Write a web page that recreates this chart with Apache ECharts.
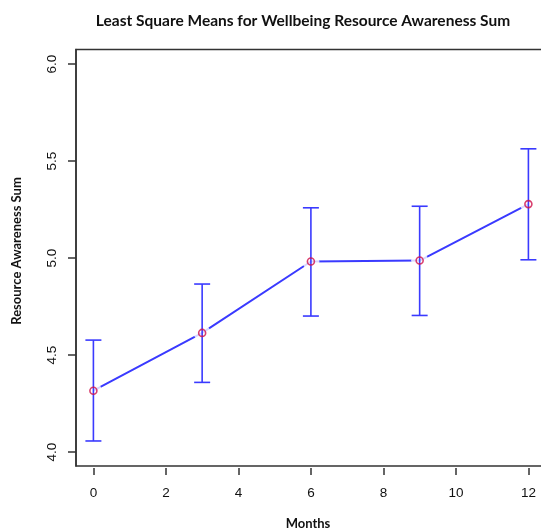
<!DOCTYPE html>
<html><head><meta charset="utf-8">
<script src="https://cdn.jsdelivr.net/npm/echarts@6/dist/echarts.min.js"></script>
<style>html,body{margin:0;padding:0;background:#fff;overflow:hidden}#c{width:552px;height:528px}</style>
</head><body><div id="c"></div>
<script>
const months = [0, 3, 6, 9, 12];
const means = [4.316, 4.614, 4.982, 4.987, 5.278];
const lower = [4.057, 4.359, 4.701, 4.704, 4.991];
const upper = [4.577, 4.866, 5.259, 5.267, 5.563];
const xTicks = [0, 2, 4, 6, 8, 10, 12];
const yTicks = [4.0, 4.5, 5.0, 5.5, 6.0];

const chart = echarts.init(document.getElementById('c'));
const pts = months.map((m, i) => [m, means[i]]);
const bars = months.map((m, i) => [m, lower[i], upper[i]]);

chart.setOption({
  animation: false,
  backgroundColor: '#fff',
  graphic: [
    {type: 'text', x: 303, y: 21, style: {text: 'Least Square Means for Wellbeing Resource Awareness Sum', font: 'bold 15.5px Lato', fill: '#111', textAlign: 'center', textVerticalAlign: 'middle'}},
    {type: 'text', x: 17, y: 251, rotation: Math.PI / 2, style: {text: 'Resource Awareness Sum', font: 'bold 13px Lato', fill: '#111', textAlign: 'center', textVerticalAlign: 'middle'}},
    {type: 'text', x: 308, y: 524, style: {text: 'Months', font: 'bold 13px Lato', fill: '#111', textAlign: 'center', textVerticalAlign: 'middle'}}
  ],
  grid: {left: 76, top: 49.5, bottom: 62, right: 6.2, show: true, borderColor: '#333', borderWidth: 1.5, backgroundColor: '#fff'},
  xAxis: {
    type: 'value', min: -0.48, max: 12.48, offset: 2,
    axisLine: {show: false, onZero: false},
    splitLine: {show: false},
    axisTick: {show: true, length: 7, customValues: xTicks, lineStyle: {color: '#333', width: 1.5}},
    axisLabel: {customValues: xTicks, margin: 18, color: '#111', fontFamily: 'Liberation Sans', fontSize: 13.5, formatter: v => String(v)}
  },
  yAxis: {
    type: 'value', min: 3.928, max: 6.075, position: 'left',
    axisLine: {show: true, onZero: false, lineStyle: {color: '#333', width: 1.5}},
    splitLine: {show: false},
    axisTick: {show: true, inside: false, length: 8, customValues: yTicks, lineStyle: {color: '#333', width: 1.5}},
    axisLabel: {customValues: yTicks, rotate: 90, margin: 24, color: '#111', fontFamily: 'Liberation Sans', fontSize: 13.5, formatter: v => v.toFixed(1), verticalAlign: 'middle', align: 'center'}
  },
  series: [
    {type: 'line', data: pts, symbol: 'none', z: 2, lineStyle: {color: '#3a3aff', width: 2}},
    {type: 'scatter', data: pts, symbol: 'circle', symbolSize: 17, z: 3, itemStyle: {color: '#fff'}},
    {type: 'custom', data: bars, z: 4,
      renderItem: function (params, api) {
        const x = api.value(0);
        const lo = api.coord([x, api.value(1)]);
        const hi = api.coord([x, api.value(2)]);
        const hw = 8;
        const st = {stroke: '#3a3aff', lineWidth: 1.6, fill: null};
        return {type: 'group', children: [
          {type: 'line', shape: {x1: lo[0], y1: lo[1], x2: hi[0], y2: hi[1]}, style: st},
          {type: 'line', shape: {x1: lo[0] - hw, y1: lo[1], x2: lo[0] + hw, y2: lo[1]}, style: st},
          {type: 'line', shape: {x1: hi[0] - hw, y1: hi[1], x2: hi[0] + hw, y2: hi[1]}, style: st}
        ]};
      }
    },
    {type: 'scatter', data: pts, symbol: 'circle', symbolSize: 7, z: 5, itemStyle: {color: 'rgba(0,0,0,0)', borderColor: '#d0104a', borderWidth: 1.6}}
  ]
});
</script>
</body></html>
